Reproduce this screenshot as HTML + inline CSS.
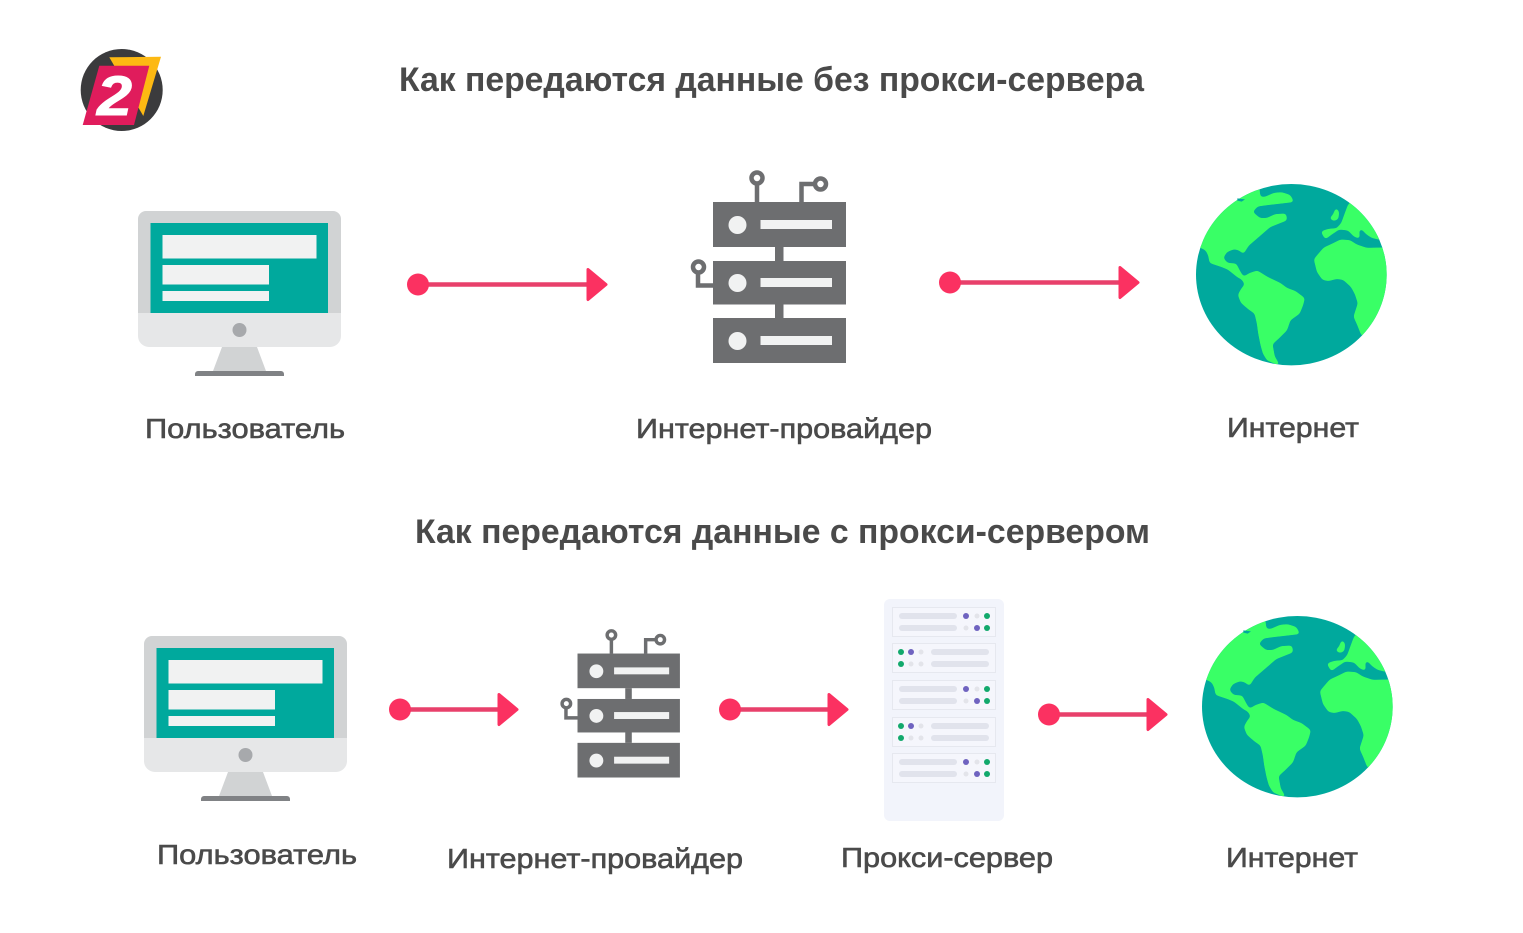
<!DOCTYPE html>
<html lang="ru">
<head>
<meta charset="utf-8">
<title>Прокси-сервер</title>
<style>
html,body{margin:0;padding:0;background:#fff}
svg{display:block}
text{font-family:"Liberation Sans",sans-serif;fill:#4a4a4a}
.t{font-size:34px;font-weight:700}
.l{font-size:28px;font-weight:400;stroke:#4a4a4a;stroke-width:.6px}
</style>
</head>
<body>
<svg xmlns="http://www.w3.org/2000/svg" width="1523" height="933" viewBox="0 0 1523 933">
<defs>
<clipPath id="gc"><ellipse cx="334" cy="314" rx="286" ry="272"/></clipPath>
<filter id="sm" x="-10%" y="-10%" width="120%" height="120%" color-interpolation-filters="sRGB">
<feGaussianBlur stdDeviation="5"/>
<feComponentTransfer><feFuncA type="linear" slope="10" intercept="-4.500"/></feComponentTransfer>
</filter>
<g id="globe">
<ellipse cx="334" cy="314" rx="286" ry="272" fill="#00a99d"/>
<g clip-path="url(#gc)">
<g filter="url(#sm)" fill="#39ff66" stroke="#39ff66" stroke-width="3" stroke-linejoin="round">
<path d="M30,225 L62,232 L78,240 L86,256 L90,278 L108,284 L126,290 L145,298 L160,310 L175,322 L186,327 L196,343 L184,358 L175,375 L184,398 L205,416 L225,430 L232,460 L236,490 L243,525 L250,550 L262,570 L298,585 L283,560 L276,522 L298,502 L320,480 L330,450 L358,430 L368,405 L373,385 L345,364 L320,355 L300,340 L262,322 L232,303 L210,310 L190,322 L178,302 L168,282 L142,280 L128,264 L140,245 L162,236 L178,240 L190,250 L205,226 L232,203 L270,170 L300,158 L320,150 L317,132 L285,134 L262,145 L240,146 L216,126 L232,108 L262,104 L295,100 L340,95 L330,76 L305,68 L282,70 L255,82 L240,82 L235,40 L190,20 L20,100 Z"/>
<path d="M403,268 L418,250 L432,234 L458,222 L482,210 L510,212 L530,225 L560,235 L605,234 L660,230 L660,530 L545,495 L532,462 L522,440 L535,400 L526,372 L514,350 L490,328 L470,325 L445,332 L428,328 L412,305 Z"/>
<path d="M424,185 L445,178 L470,176 L485,160 L495,132 L505,105 L530,80 L650,200 L600,208 L575,202 L560,192 L545,176 L536,178 L538,205 L522,198 L505,180 L478,177 L455,192 L436,206 Z"/>
<path d="M450,145 L460,135 L468,115 L476,125 L474,146 L462,152 Z"/>
</g>
</g>
<path d="M172,85 L195,88 L185,95 L172,92 Z" fill="#00a99d"/>
</g>
<g id="monitor">
<path d="M146,211 H333 a8,8 0 0 1 8,8 V313 H138 V219 a8,8 0 0 1 8,-8 Z" fill="#d1d3d4"/>
<path d="M138,313 H341 V336 a11,11 0 0 1 -11,11 H149 a11,11 0 0 1 -11,-11 Z" fill="#e6e7e8"/>
<rect x="150.500" y="223" width="177.500" height="90" fill="#00a99d"/>
<rect x="162.500" y="235" width="154" height="23.500" fill="#f1f2f2"/>
<rect x="162.500" y="265" width="106.500" height="19.500" fill="#f1f2f2"/>
<rect x="162.500" y="291" width="106.500" height="10" fill="#f1f2f2"/>
<circle cx="239.500" cy="330" r="7" fill="#a7a9ac"/>
<path d="M222,347 H257 L266,371 H213 Z" fill="#d1d3d4"/>
<path d="M198,371 H281 a3,3 0 0 1 3,3 V376 H195 V374 a3,3 0 0 1 3,-3 Z" fill="#808285"/>
</g>
<g id="server">
<g fill="#6d6e70">
<rect x="713" y="202" width="133" height="45"/>
<rect x="713" y="261" width="133" height="43.500"/>
<rect x="713" y="318" width="133" height="45"/>
<rect x="775" y="247" width="8.500" height="14"/>
<rect x="775" y="304" width="8.500" height="14"/>
</g>
<g fill="none" stroke="#6d6e70" stroke-width="4.500">
<circle cx="757" cy="178" r="5.500"/>
<circle cx="820.500" cy="184" r="5.500"/>
<circle cx="698.500" cy="267" r="5.500"/>
<path d="M757,184 V202 M801.500,202 V184 H815 M698,273 V285.500 H713"/>
</g>
<g fill="#f1f2f2">
<circle cx="737.500" cy="225" r="9"/>
<circle cx="737.500" cy="283" r="9"/>
<circle cx="737.500" cy="341" r="9"/>
<rect x="760.500" y="220" width="71.500" height="9"/>
<rect x="760.500" y="278" width="71.500" height="9"/>
<rect x="760.500" y="336" width="71.500" height="9"/>
</g>
</g>
<g id="arrow">
<line x1="0" y1="0" x2="172" y2="0" stroke="#e8406b" stroke-width="4.500"/>
<circle cx="0" cy="0" r="11" fill="#fb3161"/>
<path d="M170,-15 L188,0 L170,15 Z" fill="#fb3161" stroke="#fb3161" stroke-width="3" stroke-linejoin="round"/>
</g>
<g id="arrowS">
<line x1="0" y1="0" x2="100" y2="0" stroke="#e8406b" stroke-width="4.500"/>
<circle cx="0" cy="0" r="11" fill="#fb3161"/>
<path d="M99,-15 L117,0 L99,15 Z" fill="#fb3161" stroke="#fb3161" stroke-width="3" stroke-linejoin="round"/>
</g>
<g id="pa">
<rect x="892.500" y="0.500" width="103" height="29" fill="#f5f6fc" stroke="#e6e8ef"/>
<rect x="899" y="6" width="58" height="6" rx="3" fill="#e1e3ec"/>
<rect x="899" y="18" width="58" height="6" rx="3" fill="#e1e3ec"/>
<circle cx="966" cy="9" r="3" fill="#6f63c0"/><circle cx="977" cy="9" r="2.500" fill="#e3e4ea"/><circle cx="987" cy="9" r="3" fill="#12a96c"/>
<circle cx="966" cy="21" r="2.500" fill="#e3e4ea"/><circle cx="977" cy="21" r="3" fill="#6f63c0"/><circle cx="987" cy="21" r="3" fill="#12a96c"/>
</g>
<g id="pb">
<rect x="892.500" y="0.500" width="103" height="29" fill="#f5f6fc" stroke="#e6e8ef"/>
<rect x="931" y="6" width="58" height="6" rx="3" fill="#e1e3ec"/>
<rect x="931" y="18" width="58" height="6" rx="3" fill="#e1e3ec"/>
<circle cx="901" cy="9" r="3" fill="#12a96c"/><circle cx="911" cy="9" r="3" fill="#6f63c0"/><circle cx="921" cy="9" r="2.500" fill="#e3e4ea"/>
<circle cx="901" cy="21" r="3" fill="#12a96c"/><circle cx="911" cy="21" r="2.500" fill="#e3e4ea"/><circle cx="921" cy="21" r="2.500" fill="#e3e4ea"/>
</g>
</defs>

<!-- logo -->
<circle cx="121.700" cy="90" r="41" fill="#3b3b3d"/>
<path d="M109.300,57.300 L161,56.700 L143.300,116 Z" fill="#fdb913"/>
<path d="M99.300,65.700 H149.300 L134,125 H82.700 Z" fill="#e01c5c"/>
<text x="97" y="115" style="font-size:56px;font-weight:700;font-style:italic;fill:#fff;stroke:#fff;stroke-width:1px" textLength="35" lengthAdjust="spacingAndGlyphs">2</text>

<!-- titles -->
<text class="t" x="399" y="91" textLength="745" lengthAdjust="spacingAndGlyphs">Как передаются данные без прокси-сервера</text>
<text class="t" x="415" y="543" textLength="735" lengthAdjust="spacingAndGlyphs">Как передаются данные с прокси-сервером</text>

<!-- row 1 -->
<use href="#monitor"/>
<use href="#arrow" x="418" y="284.500"/>
<use href="#server"/>
<use href="#arrow" x="950" y="282.500"/>
<use href="#globe" transform="translate(1180,170) scale(.33333)"/>
<text class="l" x="145" y="438" textLength="200" lengthAdjust="spacingAndGlyphs">Пользователь</text>
<text class="l" x="636" y="438" textLength="296" lengthAdjust="spacingAndGlyphs">Интернет-провайдер</text>
<text class="l" x="1227" y="437" textLength="132" lengthAdjust="spacingAndGlyphs">Интернет</text>

<!-- row 2 -->
<use href="#monitor" x="6" y="425"/>
<use href="#arrowS" x="400" y="709.500"/>
<use href="#server" transform="translate(28.500,498) scale(.77)"/>
<use href="#arrowS" x="730" y="709.500"/>
<rect x="884" y="599" width="120" height="222" rx="6" fill="#f2f4fb"/>
<use href="#pa" y="607"/>
<use href="#pb" y="643"/>
<use href="#pa" y="680"/>
<use href="#pb" y="717"/>
<use href="#pa" y="753"/>
<use href="#arrowS" x="1049" y="714.500"/>
<use href="#globe" transform="translate(1186,602) scale(.33333)"/>
<text class="l" x="157" y="864" textLength="200" lengthAdjust="spacingAndGlyphs">Пользователь</text>
<text class="l" x="447" y="868" textLength="296" lengthAdjust="spacingAndGlyphs">Интернет-провайдер</text>
<text class="l" x="841" y="867" textLength="212" lengthAdjust="spacingAndGlyphs">Прокси-сервер</text>
<text class="l" x="1226" y="867" textLength="132" lengthAdjust="spacingAndGlyphs">Интернет</text>
</svg>
</body>
</html>
